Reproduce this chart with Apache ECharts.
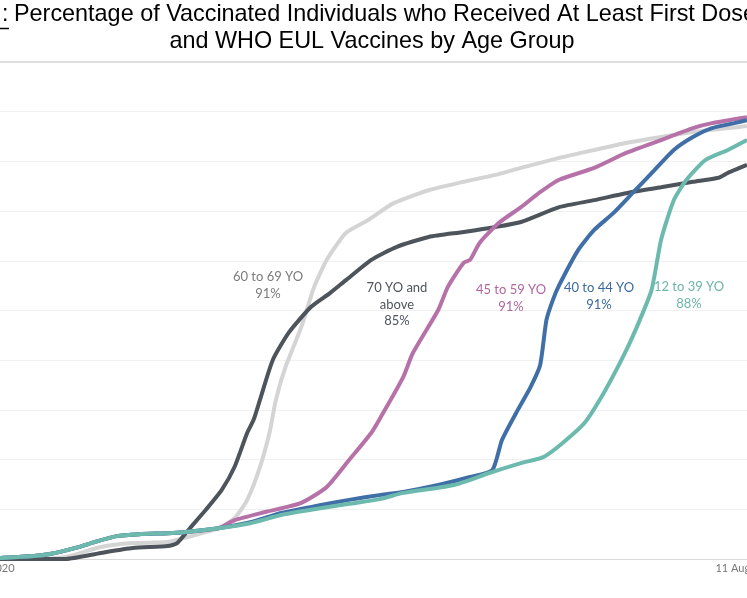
<!DOCTYPE html>
<html>
<head>
<meta charset="utf-8">
<script src="https://cdn.jsdelivr.net/npm/echarts@6/dist/echarts.min.js"></script>
<style>
  html, body { margin: 0; padding: 0; background: #fff; }
  #chart { width: 747px; height: 598px; }
</style>
</head>
<body>
<div id="chart"></div>
<script>
// days counted from the first axis tick
var tickDays = [0, 240];
var tickLabels = ['14 Dec 2020', '11 Aug 2021'];

var groups = ['60 to 69 YO', '70 YO and above', '45 to 59 YO', '40 to 44 YO', '12 to 39 YO'];
var finalShare = [91, 85, 91, 91, 88];

var age60to69 = [
    [0, 0], [15, 0], [26, 0.4], [37, 2.4], [47, 3.2], [58, 3.4], [63, 4.2], [74, 6.2],
    [79, 8.2], [83, 11.9], [87, 18.5], [90, 25.4], [92, 32.0], [95, 38.6], [100, 46.7],
    [104, 54.7], [108, 60.2], [114, 65.6], [121, 68.2], [129, 71.6], [140, 74.2],
    [151, 75.9], [161, 77.3], [169, 78.7], [181, 80.7], [192, 82.3], [202, 83.7],
    [213, 84.9], [223, 85.9], [234, 86.7], [240, 87.1]
];
var age70plus = [
    [0, 0], [26, 0], [37, 1.2], [47, 2.2], [58, 2.6], [61, 3.2], [65, 6.2], [70, 9.9],
    [75, 13.9], [79, 18.5], [83, 25.4], [85, 28.0], [87, 32.0], [91, 40.0], [96, 45.5],
    [103, 50.7], [109, 53.5], [114, 56.1], [122, 60.2], [130, 62.8], [140, 64.8],
    [151, 65.8], [161, 66.8], [169, 67.8], [181, 70.8], [192, 72.2], [202, 73.6],
    [213, 74.8], [223, 75.9], [231, 76.7], [234, 77.7], [240, 79.3]
];
var age45to59 = [
    [0, 0], [5, 0.2], [16, 0.6], [21, 1.0], [30, 2.4], [35, 3.4], [42, 4.6], [49, 5.0],
    [58, 5.2], [63, 5.4], [74, 6.2], [79, 7.8], [89, 9.5], [100, 11.3], [108, 14.5],
    [115, 19.9], [122, 25.4], [125, 28.6], [132, 36.6], [135, 41.4], [143, 50.1],
    [146, 54.7], [151, 59.6], [153, 60.2], [156, 63.6], [162, 67.6], [169, 70.8],
    [175, 73.8], [181, 76.3], [192, 78.7], [202, 81.7], [213, 84.3], [223, 86.7],
    [229, 87.7], [240, 88.9]
];
var age40to44 = [
    [0, 0], [5, 0.2], [16, 0.6], [21, 1.0], [30, 2.4], [35, 3.4], [42, 4.6], [49, 5.0],
    [58, 5.2], [63, 5.4], [74, 6.2], [84, 7.4], [94, 9.3], [105, 10.7], [115, 11.9],
    [125, 12.9], [132, 13.5], [143, 14.9], [153, 16.5], [160, 17.9], [163, 23.9],
    [168, 30.0], [172, 34.6], [175, 39.0], [177, 48.1], [179, 52.1], [181, 55.1],
    [187, 62.2], [192, 66.2], [198, 69.6], [204, 73.6], [211, 78.3], [217, 82.3],
    [223, 84.9], [229, 86.7], [236, 87.7], [240, 88.3]
];
var age12to39 = [
    [0, 0], [5, 0.2], [16, 0.6], [21, 1.0], [30, 2.4], [35, 3.4], [42, 4.6], [49, 5.0],
    [58, 5.2], [63, 5.4], [74, 6.2], [84, 7.2], [94, 8.9], [105, 10.1], [115, 11.1],
    [125, 12.1], [132, 13.3], [148, 14.9], [159, 17.3], [169, 19.3], [176, 20.5],
    [182, 23.3], [189, 27.4], [195, 33.4], [201, 40.6], [205, 46.1], [210, 54.1],
    [213, 64.2], [217, 72.2], [221, 76.3], [227, 80.3], [234, 82.3], [240, 84.3]
];

var seriesData = [age60to69, age70plus, age45to59, age40to44, age12to39];
var lineColors = ['#d4d4d4', '#4e545c', '#b672a8', '#3f6fa6', '#6cb9ad'];
var textColors = ['#7b7b7b', '#4e545c', '#b0659e', '#3b6a9e', '#6cb5a8'];
// where each group's note sits on the picture (centre x, first line y)
var notePos = [[268, 277], [397, 288], [511, 290], [599, 288], [689, 287]];

var myChart = echarts.init(document.getElementById('chart'));

var series = [];
for (var i = 0; i < groups.length; i++) {
    series.push({
        name: groups[i],
        type: 'line',
        data: seriesData[i],
        showSymbol: false,
        smooth: 0.2,
        clip: false,
        lineStyle: { width: 4, color: lineColors[i] },
        itemStyle: { color: lineColors[i] },
        z: 2 + i
    });
}

var graphics = [
    { type: 'rect', shape: { x: 0, y: 61, width: 747, height: 2 }, style: { fill: '#dedede' }, z: 10 },
    { type: 'text', x: 2, y: 15, style: { text: ':', font: '23px "Liberation Sans", Arial', fill: '#000', verticalAlign: 'middle' } },
    { type: 'line', shape: { x1: 0, y1: 28.5, x2: 9, y2: 28.5 }, style: { stroke: '#000', lineWidth: 1.5 } },
    { type: 'text', x: 14, y: 15, style: {
        text: 'Percentage of Vaccinated Individuals who Received At Least First Dose',
        font: '23.4px "Liberation Sans", Arial', fill: '#000', verticalAlign: 'middle' } },
    { type: 'text', x: 372, y: 42, style: {
        text: 'and WHO EUL Vaccines by Age Group',
        font: '23.4px "Liberation Sans", Arial', fill: '#000', align: 'center', verticalAlign: 'middle' } }
];
for (var j = 0; j < groups.length; j++) {
    var note = j === 1 ? '70 YO and\nabove\n' + finalShare[j] + '%' : groups[j] + '\n' + finalShare[j] + '%';
    graphics.push({
        type: 'text', x: notePos[j][0], y: notePos[j][1] - 8, z: 20,
        style: {
            text: note, font: '13px Lato', fill: textColors[j],
            align: 'center', verticalAlign: 'top', lineHeight: 16.5
        }
    });
}

var option = {
    backgroundColor: '#ffffff',
    animation: false,
    grid: { left: -17, right: 0, top: 62, bottom: 39, containLabel: false, outerBoundsMode: 'none' },
    xAxis: {
        type: 'value',
        min: tickDays[0],
        max: tickDays[1],
        interval: tickDays[1] - tickDays[0],
        axisLine: { show: true, lineStyle: { color: '#d9d9d9', width: 1 } },
        axisTick: { show: false },
        splitLine: { show: false },
        axisLabel: {
            color: '#777', fontFamily: 'Lato', fontSize: 11, margin: 4,
            formatter: function (v) { return tickLabels[tickDays.indexOf(v)] || ''; }
        }
    },
    yAxis: {
        type: 'value',
        min: 0,
        max: 100,
        interval: 10,
        axisLine: { show: false },
        axisTick: { show: false },
        axisLabel: { show: false },
        splitLine: { lineStyle: { color: '#f0f0f0', width: 1 } }
    },
    series: series,
    graphic: graphics
};

myChart.setOption(option);
</script>
</body>
</html>
